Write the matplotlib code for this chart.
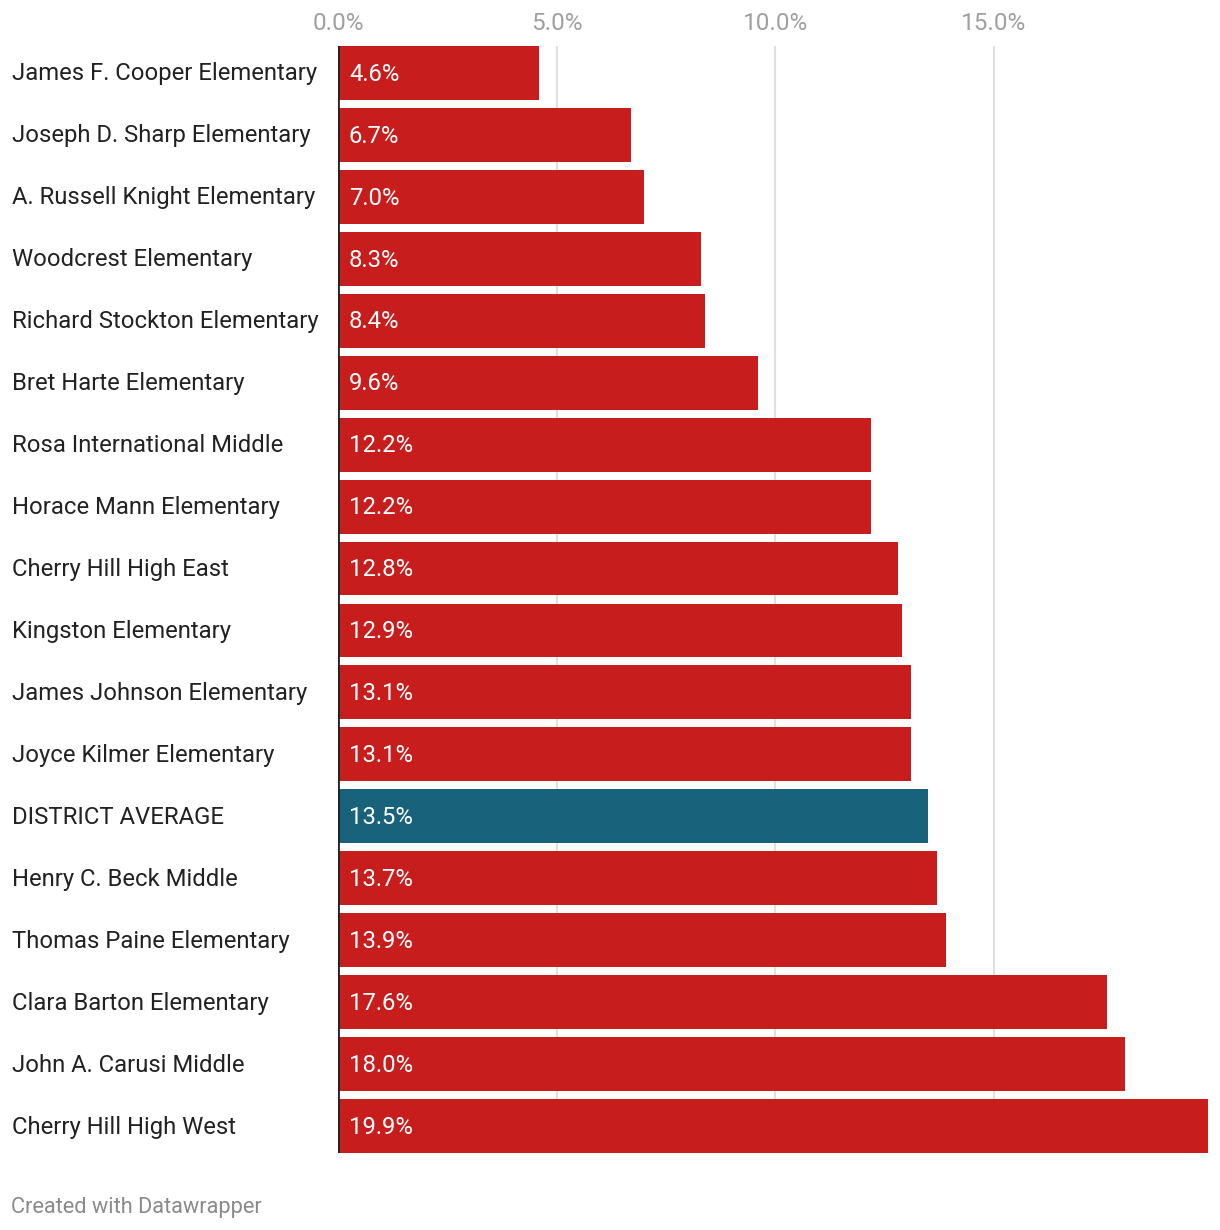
import matplotlib
matplotlib.use("Agg")
import matplotlib.pyplot as plt
from matplotlib.ticker import FixedLocator

plt.rcParams['font.family'] = ['Roboto', 'DejaVu Sans']

schools = ["James F. Cooper Elementary", "Joseph D. Sharp Elementary",
           "A. Russell Knight Elementary", "Woodcrest Elementary",
           "Richard Stockton Elementary", "Bret Harte Elementary",
           "Rosa International Middle", "Horace Mann Elementary",
           "Cherry Hill High East", "Kingston Elementary",
           "James Johnson Elementary", "Joyce Kilmer Elementary",
           "DISTRICT AVERAGE", "Henry C. Beck Middle",
           "Thomas Paine Elementary", "Clara Barton Elementary",
           "John A. Carusi Middle", "Cherry Hill High West"]
values = [4.6, 6.7, 7.0, 8.3, 8.4, 9.6, 12.2, 12.2, 12.8, 12.9,
          13.1, 13.1, 13.5, 13.7, 13.9, 17.6, 18.0, 19.9]
ticks = [0, 5, 10, 15]

red = "#c71e1d"
blue = "#18627c"
colors = [blue if s == "DISTRICT AVERAGE" else red for s in schools]

fig = plt.figure(figsize=(12.2, 12.3), dpi=100)
ax = fig.add_axes([338/1220, 1 - 1153/1230, (1208-338)/1220, (1153-46)/1230])

h = 0.87
pos = list(range(len(schools)))
ax.barh(pos, values, height=h, color=colors, zorder=2)
ax.set_ylim(len(schools) - 1 + h/2, -h/2)
ax.set_xlim(0, 19.9)

for t in ticks[1:]:
    ax.axvline(t, color="#e0e0e0", lw=1.5, zorder=1)
ax.axvline(0, color="#222222", lw=2, zorder=3)

for p, v in zip(pos, values):
    ax.text(0.25, p + 0.02, f"{v:.1f}%", color="white", fontsize=17.2,
            va="center", ha="left", zorder=4)

for p, s in zip(pos, schools):
    ax.text(12/1220, 1 - (47 + (p + h/2) * (1107 / (17 + h))) / 1230, s,
            transform=fig.transFigure, fontsize=17.2, color="#222222",
            va="center", ha="left")

ax.xaxis.set_major_locator(FixedLocator(ticks))
ax.set_xticklabels([f"{t:.1f}%" for t in ticks])
ax.xaxis.tick_top()
ax.tick_params(axis="x", length=0, labelsize=17.5, labelcolor="#a0a0a0", pad=8)
ax.set_yticks([])
for sp in ax.spines.values():
    sp.set_visible(False)

fig.text(11/1220, 1 - 1207/1230, "Created with Datawrapper", fontsize=15.7,
         color="#8a8a8a", va="center", ha="left")

fig.savefig("out.png", dpi=100)
